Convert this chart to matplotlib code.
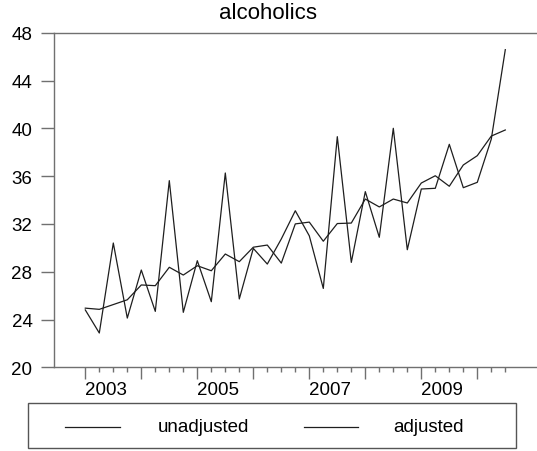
import numpy as np
import matplotlib
matplotlib.use("Agg")
import matplotlib.pyplot as plt
from matplotlib.lines import Line2D
from matplotlib.patches import Rectangle
from matplotlib.transforms import blended_transform_factory

plt.rcParams["font.family"] = ["Liberation Sans", "DejaVu Sans"]

# quarterly series, 2003Q1 .. 2010Q3
first_year = 2003
label_years = [2003, 2005, 2007, 2009]
unadjusted = [24.8, 22.87, 30.4, 24.12, 28.14, 24.68, 35.62, 24.6,
              28.92, 25.49, 36.26, 25.72, 29.95, 28.64, 30.74, 33.1,
              31.0, 26.6, 39.3, 28.78, 34.7, 30.88, 40.0, 29.84,
              34.92, 34.98, 38.66, 35.03, 35.48, 39.1, 46.58]
adjusted = [24.95, 24.85, 25.25, 25.65, 26.89, 26.83, 28.37, 27.72,
            28.5, 28.08, 29.48, 28.84, 30.05, 30.23, 28.72, 32.0,
            32.15, 30.55, 32.03, 32.07, 34.08, 33.42, 34.08, 33.75,
            35.42, 36.03, 35.15, 36.93, 37.71, 39.35, 39.86]
yticks = [20, 24, 28, 32, 36, 40, 44, 48]

W, H = 537, 452
fig = plt.figure(figsize=(W / 100, H / 100), dpi=100)

def fx(px):
    return px / W

def fy(py):
    return 1 - py / H

ax_l, ax_r, ax_t, ax_b = 53.5, 537, 33.7, 368.3
ax = fig.add_axes([fx(ax_l), fy(ax_b), fx(ax_r - ax_l), (ax_b - ax_t) / H])

n = len(unadjusted)
t = np.arange(n)
line_kw = dict(color="#1e1e1e", linewidth=0.9)
ax.plot(t, unadjusted, **line_kw)
ax.plot(t, adjusted, **line_kw)

# x range: first obs sits 31.8px right of the left spine, 14px per quarter
step = 14.0
x0 = -(85.3 - ax_l) / step
ax.set_xlim(x0, x0 + (ax_r - ax_l) / step)
ax.set_ylim(20, 48)

axis_col = "#707070"
for side in ["top", "left", "bottom"]:
    ax.spines[side].set_color(axis_col)
    ax.spines[side].set_linewidth(1.0)
ax.spines["right"].set_visible(False)

ax.set_yticks(yticks)
ax.tick_params(axis="y", direction="out", length=9.7, width=1.0,
               color=axis_col, labelsize=13.5, pad=5.5)

ax.set_xticks(np.arange(0, n, 4))
ax.set_xticks(t, minor=True)
ax.set_xticklabels([])
ax.tick_params(axis="x", which="major", direction="out", length=8.3,
               width=1.0, color=axis_col)
ax.tick_params(axis="x", which="minor", direction="out", length=3.6,
               width=1.0, color=axis_col)

# year labels centred over the four quarters of the year
trans = blended_transform_factory(ax.transData, ax.transAxes)
for yr in label_years:
    pos = (yr - first_year) * 4 + 1.5
    ax.text(pos, -0.065, str(yr), transform=trans, ha="center", va="center",
            fontsize=13.5)

fig.text(0.5, fy(13.5), "alcoholics", ha="center", va="center", fontsize=16)

# legend box below the axis
box_l, box_r, box_t, box_b = 27.5, 516, 404, 449
fig.add_artist(Rectangle((fx(box_l), fy(box_b)), fx(box_r - box_l),
                         (box_b - box_t) / H, transform=fig.transFigure,
                         fill=False, edgecolor="#555555", linewidth=1.0))
ly = fy(428)
entries = [("unadjusted", 65, 120, 203), ("adjusted", 304, 358, 428)]
for label, l0, l1, tx in entries:
    fig.add_artist(Line2D([fx(l0), fx(l1)], [ly, ly],
                          transform=fig.transFigure, **line_kw))
    fig.text(fx(tx), ly, label, ha="center", va="center", fontsize=13.5)

fig.savefig("out.png", dpi=100)
